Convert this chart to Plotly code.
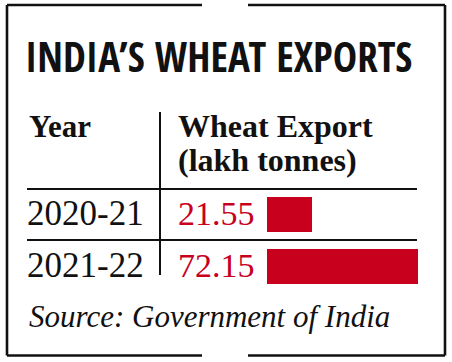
import plotly.graph_objects as go

# ---- data ----
title_text = "INDIA’S WHEAT EXPORTS"
col_year = "Year"
col_value = ["Wheat Export", "(lakh tonnes)"]
years = ["2020-21", "2021-22"]
exports = [21.55, 72.15]
source_text = "Source: Government of India"

W, H = 452, 362
RED = "#c8001e"
INK = "#111111"


def px(x):
    return x / W


def py(y):
    return 1 - y / H


fig = go.Figure()
fig.add_trace(go.Bar(
    x=exports, y=years, orientation="h",
    marker=dict(color=RED, line=dict(width=0)),
    width=0.673, hoverinfo="skip",
))

shapes = []
lw_border = 2.6
# border with gaps at top and bottom
for (x0, y0, x1, y1) in [
    (7, 5, 202, 5), (248, 5, 445, 5),
    (7, 355.5, 202, 355.5), (248, 355.5, 445, 355.5),
    (7, 5, 7, 355.5), (445, 5, 445, 355.5),
]:
    shapes.append(dict(type="line", xref="paper", yref="paper",
                       x0=px(x0), y0=py(y0), x1=px(x1), y1=py(y1),
                       line=dict(color=INK, width=lw_border)))
# table rules
for y in [189, 240]:
    shapes.append(dict(type="line", xref="paper", yref="paper",
                       x0=px(27), x1=px(417), y0=py(y), y1=py(y),
                       line=dict(color=INK, width=2.2)))
shapes.append(dict(type="line", xref="paper", yref="paper",
                   x0=px(160), x1=px(160), y0=py(112), y1=py(275),
                   line=dict(color=INK, width=2)))

SERIF = "Liberation Serif, Times New Roman, serif"
TITLE_FONT = "Open Sans Condensed, Roboto Condensed, sans-serif"
ann = []
ann.append(dict(text=title_text, x=px(23), y=py(56),
                xref="paper", yref="paper", xanchor="left", yanchor="middle",
                showarrow=False,
                font=dict(family=TITLE_FONT, size=41, color=INK, weight=800)))
ann.append(dict(text="<b>" + col_year + "</b>", x=px(27), y=py(126),
                xref="paper", yref="paper", xanchor="left", yanchor="middle",
                showarrow=False, font=dict(family=SERIF, size=31, color=INK)))
ann.append(dict(text="<b>" + col_value[0] + "</b>", x=px(176), y=py(126),
                xref="paper", yref="paper", xanchor="left", yanchor="middle",
                showarrow=False, font=dict(family=SERIF, size=32, color=INK)))
ann.append(dict(text="<b>" + col_value[1] + "</b>", x=px(176), y=py(160),
                xref="paper", yref="paper", xanchor="left", yanchor="middle",
                showarrow=False, font=dict(family=SERIF, size=32, color=INK)))
for yr, v in zip(years, exports):
    ann.append(dict(text=yr, x=px(25), y=yr, xref="paper", yref="y",
                    xanchor="left", yanchor="middle", showarrow=False,
                    font=dict(family=SERIF, size=35, color=INK)))
    ann.append(dict(text=f"{v:.2f}", x=px(176), y=yr, xref="paper", yref="y",
                    xanchor="left", yanchor="middle", showarrow=False,
                    font=dict(family=SERIF, size=34, color=RED)))
ann.append(dict(text="<i>" + source_text + "</i>", x=px(27), y=py(316),
                xref="paper", yref="paper", xanchor="left", yanchor="middle",
                showarrow=False, font=dict(family=SERIF, size=31, color=INK)))

fig.update_layout(
    width=W, height=H,
    margin=dict(l=0, r=0, t=0, b=0),
    paper_bgcolor="white", plot_bgcolor="white",
    showlegend=False,
    shapes=shapes, annotations=ann,
    xaxis=dict(domain=[px(267), px(418)], range=[0, max(exports)],
               visible=False, fixedrange=True),
    yaxis=dict(domain=[py(291.5), py(187.5)], type="category",
               categoryorder="array", categoryarray=years,
               range=[1.5, -0.5], visible=False, fixedrange=True),
    bargap=0,
)

fig.write_html("out.html", config={"displayModeBar": False},
               post_script="document.body.style.margin='0';")
